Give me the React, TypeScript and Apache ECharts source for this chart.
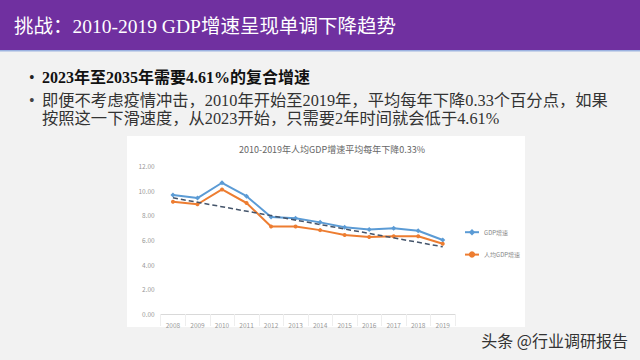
import React, { useEffect, useRef } from "react";
import * as echarts from "echarts";

const years = ["2008", "2009", "2010", "2011", "2012", "2013", "2014", "2015", "2016", "2017", "2018", "2019"];
const gdpGrowth = [9.65, 9.4, 10.64, 9.55, 7.86, 7.77, 7.43, 7.04, 6.85, 6.95, 6.75, 6.0];
const perCapitaGrowth = [9.1, 8.9, 10.1, 9.0, 7.1, 7.1, 6.8, 6.4, 6.25, 6.3, 6.3, 5.7];
const trendEnds = [9.42, null, null, null, null, null, null, null, null, null, null, 5.45];
const yTicks = { min: 0, max: 12, interval: 2 };

const headerTitle = "挑战：2010-2019 GDP增速呈现单调下降趋势";
const bullet1 = "2023年至2035年需要4.61%的复合增速";
const bullet2a = "即便不考虑疫情冲击，2010年开始至2019年，平均每年下降0.33个百分点，如果";
const bullet2b = "按照这一下滑速度，从2023开始，只需要2年时间就会低于4.61%";
const chartTitle = "2010-2019年人均GDP增速平均每年下降0.33%";
const watermark = "头条 @行业调研报告";

const serif = "'Liberation Serif', 'Noto Sans CJK SC', serif";
const sans = "'Noto Sans CJK SC', 'Noto Sans', sans-serif";

export default function App() {
  const ref = useRef<HTMLDivElement>(null);
  useEffect(() => {
    if (!ref.current) return;
    const chart = echarts.init(ref.current, undefined, { renderer: "svg" });
    chart.setOption({
      animation: false,
      backgroundColor: "#f2f2f2",
      graphic: [
        { type: "rect", shape: { x: 0, y: 0, width: 640, height: 50 }, style: { fill: "#7030a0" }, z: 0 },
        { type: "rect", shape: { x: 0, y: 50, width: 640, height: 1.5 }, style: { fill: "#9db3e0" }, z: 0 },
        { type: "rect", shape: { x: 127, y: 136, width: 398, height: 191 }, style: { fill: "#ffffff" }, z: -10 },
        {
          type: "text", x: 14, y: 26, z: 5,
          style: { text: headerTitle, fill: "#ffffff", font: `19.5px ${serif}`, verticalAlign: "middle" },
        },
        { type: "text", x: 29, y: 77, z: 5, style: { text: "•", fill: "#222", font: `16px ${serif}`, verticalAlign: "middle" } },
        {
          type: "text", x: 42, y: 77, z: 5,
          style: { text: bullet1, fill: "#111", font: `bold 16px ${serif}`, verticalAlign: "middle" },
        },
        { type: "text", x: 29, y: 100, z: 5, style: { text: "•", fill: "#444", font: `16px ${serif}`, verticalAlign: "middle" } },
        {
          type: "text", x: 42, y: 100, z: 5,
          style: { text: bullet2a, fill: "#333", font: `16.3px ${serif}`, verticalAlign: "middle" },
        },
        {
          type: "text", x: 42, y: 118, z: 5,
          style: { text: bullet2b, fill: "#333", font: `16.3px ${serif}`, verticalAlign: "middle" },
        },
        {
          type: "text", x: 628, y: 340, z: 5,
          style: { text: watermark, fill: "#333", font: `16px ${sans}`, align: "right", verticalAlign: "middle" },
        },
      ],
      title: {
        text: chartTitle,
        left: 327,
        top: 140,
        textAlign: "center",
        textStyle: { fontSize: 9, fontWeight: "normal", color: "#666", fontFamily: sans },
      },
      legend: {
        orient: "vertical",
        left: 459,
        top: 224,
        itemGap: 16,
        itemWidth: 14,
        itemHeight: 8,
        textStyle: { fontSize: 6, color: "#888", fontFamily: sans },
        data: ["GDP增速", "人均GDP增速"],
      },
      grid: { left: 160.7, right: 185, top: 166, bottom: 46, containLabel: false },
      xAxis: {
        type: "category",
        data: years,
        boundaryGap: true,
        axisLine: { lineStyle: { color: "#d9d9d9" } },
        axisTick: { show: true, length: 12, lineStyle: { color: "#eeeeee" } },
        axisLabel: { fontSize: 6.5, color: "#999", margin: 8, fontFamily: sans },
      },
      yAxis: {
        type: "value",
        min: yTicks.min,
        max: yTicks.max,
        interval: yTicks.interval,
        splitLine: { show: false },
        axisLine: { show: false },
        axisTick: { show: false },
        axisLabel: {
          fontSize: 6.5, color: "#999", margin: 6, fontFamily: sans,
          formatter: (v: number) => v.toFixed(2),
        },
      },
      series: [
        {
          name: "GDP增速",
          type: "line",
          data: gdpGrowth,
          symbol: "diamond",
          symbolSize: 5,
          lineStyle: { color: "#5b9bd5", width: 2 },
          itemStyle: { color: "#5b9bd5" },
          z: 3,
        },
        {
          name: "人均GDP增速",
          type: "line",
          data: perCapitaGrowth,
          symbol: "circle",
          symbolSize: 4,
          lineStyle: { color: "#ed7d31", width: 2 },
          itemStyle: { color: "#ed7d31" },
          z: 3,
        },
        {
          name: "trend",
          type: "line",
          data: trendEnds,
          connectNulls: true,
          symbol: "none",
          lineStyle: { color: "#44546a", width: 1.5, type: [5, 3] },
          z: 4,
        },
      ],
    });
    return () => chart.dispose();
  }, []);
  return <div ref={ref} style={{ position: "fixed", left: 0, top: 0, width: 640, height: 360 }} />;
}
